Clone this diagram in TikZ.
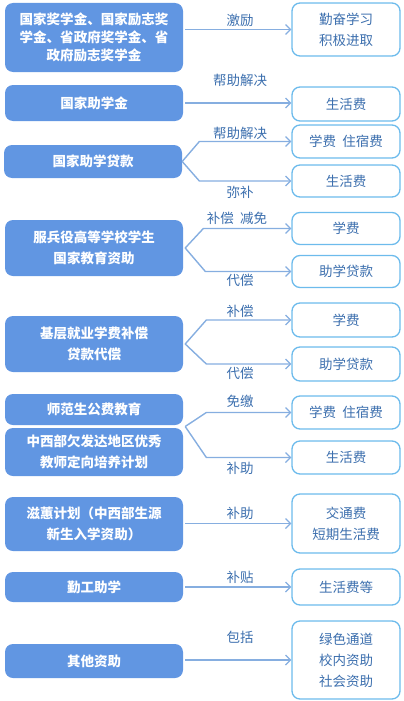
\documentclass[tikz,border=0pt]{standalone}
\usepackage{fontspec}
\setmainfont{Noto Sans CJK SC}
\usetikzlibrary{arrows.meta, calc}
\definecolor{aidfill}{HTML}{6196E2}
\definecolor{itemline}{HTML}{6DBBEC}
\definecolor{linkcol}{HTML}{86AEE0}
\definecolor{wordcol}{HTML}{3C6FAE}

\begin{document}
\begin{tikzpicture}[x=1pt,y=-1pt,
    aid/.style={fill=aidfill,rounded corners=8pt,text=white,font=\fontsize{13.5}{21}\selectfont\bfseries,
        minimum width=178pt,align=center,inner sep=0pt},
    item/.style={draw=itemline,line width=1.3pt,fill=white,rounded corners=8pt,text=wordcol,
        font=\fontsize{13.5}{21}\selectfont,minimum width=108pt,align=center,inner sep=0pt},
    link/.style={draw=linkcol,line width=1.4pt,-{Straight Barb[length=5pt,width=10pt,line width=1.2pt]}},
    word/.style={text=wordcol,font=\fontsize{13.5}{16}\selectfont,inner sep=0pt}]
    \useasboundingbox (0,0) rectangle (404,701);
    % left: kinds of aid
    \node[aid,minimum height=69pt,font=\fontsize{13.5}{18}\selectfont\bfseries] (l1) at (94,37.5) {国家奖学金、国家励志奖\\学金、省政府奖学金、省\\政府励志奖学金};
    \node[aid,minimum height=36pt] (l2) at (94,103) {国家助学金};
    \node[aid,minimum height=33pt] (l3) at (93,161.5) {国家助学贷款};
    \node[aid,minimum height=56pt] (l4) at (94,248) {服兵役高等学校学生\\国家教育资助};
    \node[aid,minimum height=56pt] (l5) at (94,344) {基层就业学费补偿\\贷款代偿};
    \node[aid,minimum height=31pt] (l6) at (94,409.5) {师范生公费教育};
    \node[aid,minimum height=48pt] (l7) at (94,452) {中西部欠发达地区优秀\\教师定向培养计划};
    \node[aid,minimum height=54pt] (l8) at (94,524) {滋蕙计划（中西部生源\\新生入学资助）};
    \node[aid,minimum height=30pt] (l9) at (94,587) {勤工助学};
    \node[aid,minimum height=34pt] (l10) at (94,661) {其他资助};
    % right: what it covers
    \node[item,minimum height=53pt] (r1) at (346,29.5) {勤奋学习\\积极进取};
    \node[item,minimum height=34pt] (r2) at (346,104) {生活费};
    \node[item,minimum height=33pt] (r3) at (346,141.5) {学费\ \ 住宿费};
    \node[item,minimum height=32pt] (r4) at (346,181) {生活费};
    \node[item,minimum height=32pt] (r5) at (346,228.5) {学费};
    \node[item,minimum height=32pt] (r6) at (346,271.5) {助学贷款};
    \node[item,minimum height=34pt] (r7) at (346,320) {学费};
    \node[item,minimum height=34pt] (r8) at (346,364) {助学贷款};
    \node[item,minimum height=33pt] (r9) at (346,412.5) {学费\ \ 住宿费};
    \node[item,minimum height=33pt] (r10) at (346,457.5) {生活费};
    \node[item,minimum height=59pt] (r11) at (346,523.5) {交通费\\短期生活费};
    \node[item,minimum height=36pt] (r12) at (346,587) {生活费等};
    \node[item,minimum height=78pt] (r13) at (346,660) {绿色通道\\校内资助\\社会资助};
    % arrows
    \draw[link] ([xshift=2pt]l1.east |- r1.west) -- (r1.west);
    \draw[link] ([xshift=2pt]l2.east) -- (l2.east -| r2.west);
    \draw[link] (l3.east) -- ([xshift=-92pt]r3.west) -- (r3.west);
    \draw[link] (l3.east) -- ([xshift=-92pt]r4.west) -- (r4.west);
    \draw[link] ([xshift=2pt]l4.east) -- ([xshift=-88pt]r5.west) -- (r5.west);
    \draw[link] ([xshift=2pt]l4.east) -- ([xshift=-86pt]r6.west) -- (r6.west);
    \draw[link] ([xshift=2pt]l5.east) -- ([xshift=-85pt]r7.west) -- (r7.west);
    \draw[link] ([xshift=2pt]l5.east) -- ([xshift=-85pt]r8.west) -- (r8.west);
    \coordinate (l67) at ($(l6.south east)!0.5!(l7.north east)+(2,0)$);
    \draw[link] (l67) -- ([xshift=-85pt]r9.west) -- (r9.west);
    \draw[link] (l67) -- ([xshift=-85pt]r10.west) -- (r10.west);
    \draw[link] ([xshift=2pt]l8.east |- r11.west) -- (r11.west);
    \draw[link] ([xshift=2pt]l9.east) -- (r12.west);
    \draw[link] ([xshift=2pt]l10.east |- r13.west) -- (r13.west);
    % labels
    \node[word] (w1) at (240,20) {激励};
    \node[word] (w2) at (240,80) {帮助解决};
    \node[word] (w3) at (240,133) {帮助解决};
    \node[word] (w4) at (240,192) {弥补};
    \node[word] (w5) at (237,218) {补偿\ \ 减免};
    \node[word] (w6) at (240,280) {代偿};
    \node[word] (w7) at (240,311) {补偿};
    \node[word] (w8) at (240,373) {代偿};
    \node[word] (w9) at (240,401) {免缴};
    \node[word] (w10) at (240,468) {补助};
    \node[word] (w11) at (240,513) {补助};
    \node[word] (w12) at (240,577) {补贴};
    \node[word] (w13) at (240,637) {包括};
\end{tikzpicture}
\end{document}
